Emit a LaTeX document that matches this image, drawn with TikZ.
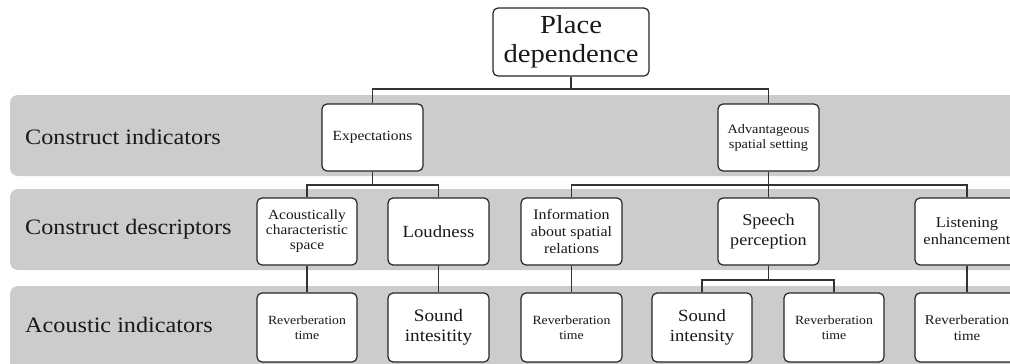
\documentclass[tikz,border=0pt]{standalone}
\usepackage{fontspec}
\setmainfont[FakeStretch=1.1]{Liberation Serif}
\begin{document}
\begin{tikzpicture}[x=1pt,y=-1pt,
  band/.style={fill=black!20},
  box/.style={draw=black!85, line width=1.2pt, fill=white, rounded corners=5pt,
    align=center, inner sep=0pt, text=black!90},
  conn/.style={draw=black!80, line width=1.5pt},
  lab/.style={anchor=west, inner sep=0pt, font=\fontsize{22}{24}\selectfont, text=black!90}]
\useasboundingbox (0,0) rectangle (1010,364);
\clip (0,0) rectangle (1010,364);
% bands
\fill[band, rounded corners=8pt] (10,95) rectangle (1040,176);
\fill[band, rounded corners=8pt] (10,189) rectangle (1040,270);
\fill[band, rounded corners=8pt] (10,286) rectangle (1040,372);
\node[lab] (l1) at (25,137) {Construct indicators};
\node[lab] (l2) at (25,229) {Construct descriptors};
\node[lab] (l3) at (25,325) {Acoustic indicators};
% connectors
\coordinate (j1) at (571,89);
\coordinate (j2) at (372.5,185);
\coordinate (j3) at (768.5,185);
\coordinate (j4) at (768.5,280);
% nodes
\node[box, minimum width=156pt, minimum height=68pt, font=\fontsize{26}{29}\selectfont] (pd) at (571,42) {Place\\dependence};
\node[box, minimum width=101pt, minimum height=67pt, font=\fontsize{14}{16}\selectfont] (ex) at (372.5,137.5) {Expectations};
\node[box, minimum width=101pt, minimum height=67pt, font=\fontsize{13}{15}\selectfont] (ad) at (768.5,137.5) {Advantageous\\spatial setting};
\node[box, minimum width=100pt, minimum height=67pt, font=\fontsize{14}{15}\selectfont] (ac) at (307,231.5) {Acoustically\\characteristic\\space};
\node[box, minimum width=101pt, minimum height=67pt, font=\fontsize{17}{19}\selectfont] (lo) at (438.5,231.5) {Loudness};
\node[box, minimum width=101pt, minimum height=67pt, font=\fontsize{14.5}{17}\selectfont] (in) at (571.5,231.5) {Information\\about spatial\\relations};
\node[box, minimum width=101pt, minimum height=67pt, font=\fontsize{16.5}{20}\selectfont] (sp) at (768.5,231.5) {Speech\\perception};
\node[box, minimum width=104pt, minimum height=67pt, font=\fontsize{15}{17}\selectfont] (le) at (967,231.5) {Listening\\enhancement};
\node[box, minimum width=100pt, minimum height=69pt, font=\fontsize{12.5}{15}\selectfont] (r1) at (307,327.5) {Reverberation\\time};
\node[box, minimum width=101pt, minimum height=69pt, font=\fontsize{17.5}{20}\selectfont] (si) at (438.5,327.5) {Sound\\intesitity};
\node[box, minimum width=101pt, minimum height=69pt, font=\fontsize{12.5}{15}\selectfont] (r2) at (571.5,327.5) {Reverberation\\time};
\node[box, minimum width=100pt, minimum height=69pt, font=\fontsize{17}{20}\selectfont] (s2) at (702,327.5) {Sound\\intensity};
\node[box, minimum width=100pt, minimum height=69pt, font=\fontsize{12.5}{15}\selectfont] (r3) at (834,327.5) {Reverberation\\time};
\node[box, minimum width=104pt, minimum height=69pt, font=\fontsize{13.5}{16}\selectfont] (r4) at (967,327.5) {Reverberation\\time};
% connectors
\draw[conn] (pd.south) -- (j1);
\draw[conn] (j1) -| (ex.north);
\draw[conn] (j1) -| (ad.north);
\draw[conn] (ex.south) -- (j2);
\draw[conn] (j2) -| (ac.north);
\draw[conn] (j2) -| (lo.north);
\draw[conn] (ad.south) -- (j3);
\draw[conn] (j3) -| (in.north);
\draw[conn] (j3) -| (sp.north);
\draw[conn] (j3) -| (le.north);
\draw[conn] (ac.south) -- (r1.north);
\draw[conn] (lo.south) -- (si.north);
\draw[conn] (in.south) -- (r2.north);
\draw[conn] (sp.south) -- (j4);
\draw[conn] (j4) -| (s2.north);
\draw[conn] (j4) -| (r3.north);
\draw[conn] (le.south) -- (r4.north);
\end{tikzpicture}
\end{document}
